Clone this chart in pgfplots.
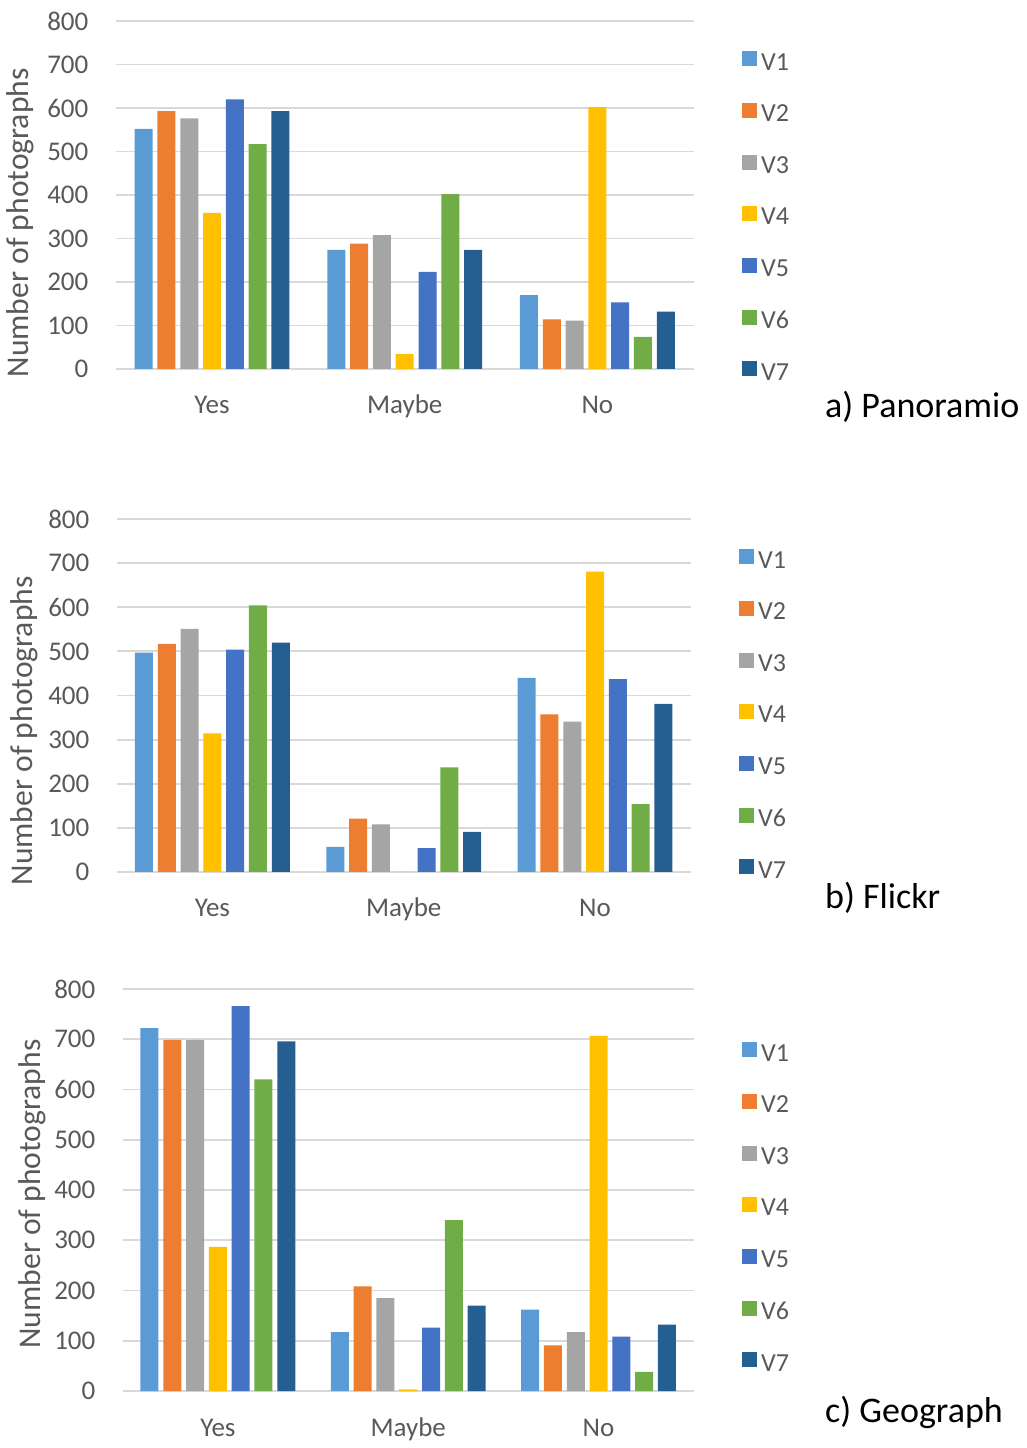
\documentclass[border=0pt]{standalone}
\usepackage{fontspec}
\setmainfont{Carlito}
\usepackage{pgfplots}
\pgfplotsset{compat=1.18}

\definecolor{c1}{HTML}{5B9BD5}
\definecolor{c2}{HTML}{ED7D31}
\definecolor{c3}{HTML}{A5A5A5}
\definecolor{c4}{HTML}{FFC000}
\definecolor{c5}{HTML}{4472C4}
\definecolor{c6}{HTML}{70AD47}
\definecolor{c7}{HTML}{255E91}
\definecolor{gridgray}{HTML}{D9D9D9}
\definecolor{txtgray}{HTML}{595959}

\pgfplotsset{
  panel/.style={
    ybar=2.4pt, bar width=9pt,
    scale only axis, anchor=south west,
    xmin=-0.5, xmax=2.5, ymin=0, ymax=800,
    xtick={0,1,2}, xticklabels={Yes,Maybe,No},
    ytick={0,100,...,800},
    axis line style={draw=none},
    major tick length=0pt,
    ymajorgrids, major grid style={draw=gridgray, line width=0.9pt},
    /pgf/number format/assume math mode=true,
    tick label style={font=\fontsize{13.5}{15}\selectfont, text=txtgray},
    yticklabel style={anchor=east, inner sep=0pt, xshift=-13.5pt},
    xticklabel style={anchor=base, inner sep=0pt, yshift=-22.5pt},
    ylabel={Number of photographs},
    ylabel style={font=\fontsize{15.8}{17}\selectfont, text=txtgray, anchor=center},
    legend style={draw=none, fill=none, at={(1,1)}, anchor=north west,
      xshift=24pt, yshift=-14pt, inner sep=0pt, row sep=11.9pt,
      font=\fontsize{13}{15}\selectfont, text=txtgray,
      /tikz/every even column/.append style={column sep=7.5pt}},
    legend cell align=left,
    legend image code/.code={\fill[##1] (0pt,-1.5pt) rectangle (7.5pt,6pt);},
    every axis plot/.append style={draw=none},
  }
}

\begin{document}
\begin{tikzpicture}
\path (0pt,0pt) rectangle (512pt,724pt);

% a) Panoramio
\begin{axis}[panel, at={(56.5pt,539.5pt)}, width=289pt, height=174pt,
  ylabel style={at={(axis description cs:-0.165,0.42)}}]
\addplot[fill=c1] coordinates {(0,552) (1,274) (2,170)};
\addplot[fill=c2] coordinates {(0,593) (1,288) (2,114)};
\addplot[fill=c3] coordinates {(0,576) (1,308) (2,111)};
\addplot[fill=c4] coordinates {(0,359) (1,34) (2,602)};
\addplot[fill=c5] coordinates {(0,620) (1,223) (2,153)};
\addplot[fill=c6] coordinates {(0,517) (1,402) (2,74)};
\addplot[fill=c7] coordinates {(0,593) (1,274) (2,132)};
\legend{V1,V2,V3,V4,V5,V6,V7}
\end{axis}
\node[anchor=west, inner sep=0pt, font=\fontsize{18}{20}\selectfont] at (411pt,520.5pt) {a) Panoramio};

% b) Flickr
\begin{axis}[panel, at={(57pt,288pt)}, width=287pt, height=176.5pt,
  ylabel style={at={(axis description cs:-0.161,0.40)}}]
\addplot[fill=c1] coordinates {(0,497) (1,57) (2,440)};
\addplot[fill=c2] coordinates {(0,517) (1,121) (2,357)};
\addplot[fill=c3] coordinates {(0,551) (1,108) (2,341)};
\addplot[fill=c4] coordinates {(0,314) (1,0) (2,681)};
\addplot[fill=c5] coordinates {(0,504) (1,54) (2,437)};
\addplot[fill=c6] coordinates {(0,604) (1,237) (2,154)};
\addplot[fill=c7] coordinates {(0,520) (1,91) (2,381)};
\legend{V1,V2,V3,V4,V5,V6,V7}
\end{axis}
\node[anchor=west, inner sep=0pt, font=\fontsize{18}{20}\selectfont] at (411pt,275pt) {b) Flickr};

% c) Geograph
\begin{axis}[panel, at={(60pt,28.5pt)}, width=285.5pt, height=201pt,
  ylabel style={at={(axis description cs:-0.158,0.49)}},
  legend style={yshift=-11.5pt}]
\addplot[fill=c1] coordinates {(0,722) (1,117) (2,162)};
\addplot[fill=c2] coordinates {(0,699) (1,208) (2,91)};
\addplot[fill=c3] coordinates {(0,699) (1,185) (2,117)};
\addplot[fill=c4] coordinates {(0,287) (1,3) (2,707)};
\addplot[fill=c5] coordinates {(0,766) (1,126) (2,108)};
\addplot[fill=c6] coordinates {(0,620) (1,340) (2,38)};
\addplot[fill=c7] coordinates {(0,696) (1,170) (2,132)};
\legend{V1,V2,V3,V4,V5,V6,V7}
\end{axis}
\node[anchor=west, inner sep=0pt, font=\fontsize{18}{20}\selectfont] at (411pt,18pt) {c) Geograph};
\end{tikzpicture}
\end{document}
